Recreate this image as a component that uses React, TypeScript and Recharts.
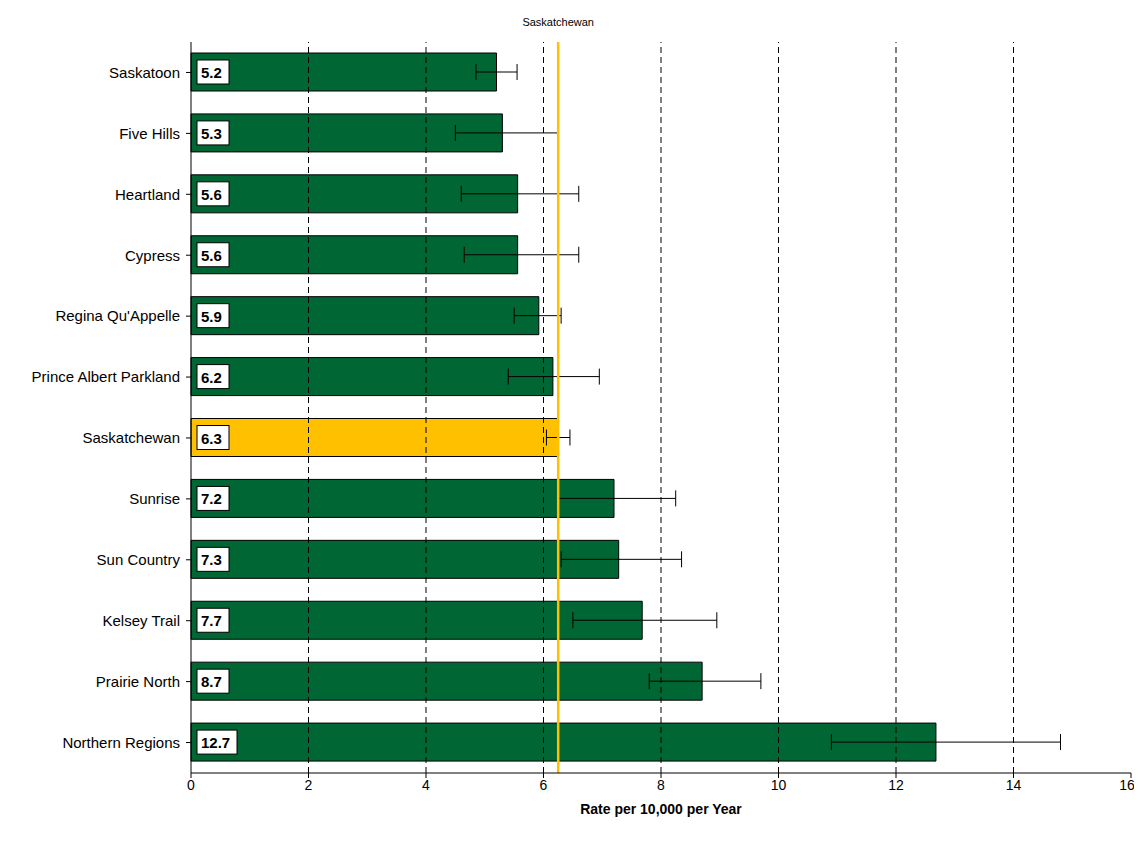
import React from "react";
import { BarChart, Bar, XAxis, YAxis, ErrorBar, LabelList, ReferenceLine, Cell } from "recharts";

const regions = ["Saskatoon","Five Hills","Heartland","Cypress","Regina Qu'Appelle","Prince Albert Parkland","Saskatchewan","Sunrise","Sun Country","Kelsey Trail","Prairie North","Northern Regions"];
const rates = [5.2,5.3,5.56,5.56,5.92,6.16,6.25,7.2,7.28,7.68,8.7,12.68];
const labels = ["5.2","5.3","5.6","5.6","5.9","6.2","6.3","7.2","7.3","7.7","8.7","12.7"];
const lower = [4.85,4.5,4.6,4.65,5.5,5.4,6.05,6.25,6.3,6.5,7.8,10.9];
const upper = [5.55,6.25,6.6,6.6,6.3,6.95,6.45,8.25,8.35,8.95,9.7,14.8];
const xTicks = [0,2,4,6,8,10,12,14,16];
const gridLines = [2,4,6,8,10,12,14];
const provincialRate = 6.25;

const data = regions.map((r, i) => ({ name: r, rate: rates[i], label: labels[i], err: [rates[i] - lower[i], upper[i] - rates[i]] }));

const BoxLabel = (props: any) => {
  const { x, y, height, value } = props;
  const w = value.length > 3 ? 40 : 32;
  const h = 24;
  return (
    <g>
      <rect x={x + 6} y={y + height / 2 - h / 2} width={w} height={h} fill="#fff" stroke="#000" strokeWidth={1} />
      <text x={x + 10} y={y + height / 2 + 6} fontSize={15} fontWeight="bold" fill="#000" fontFamily="Liberation Sans, Arial">{value}</text>
    </g>
  );
};

export default function App() {
  return (
    <BarChart width={1126} height={826} data={data} layout="vertical" margin={{ top: 34, right: 3, bottom: 20, left: 0 }} style={{ fontFamily: "Liberation Sans, Arial" }}>
      {gridLines.map((g) => <ReferenceLine key={g} x={g} stroke="#000" strokeDasharray="6 4" />)}
      <XAxis type="number" domain={[0, 16]} ticks={xTicks} tick={{ fill: "#000", fontSize: 14 }} stroke="#000" tickSize={5} height={41}
        label={{ value: "Rate per 10,000 per Year", position: "insideBottom", offset: 0, fontWeight: "bold", fontSize: 14, fill: "#000" }} />
      <YAxis type="category" dataKey="name" width={183} tick={{ fill: "#000", fontSize: 15 }} stroke="#000" tickSize={5} tickMargin={6} interval={0} />
      <Bar dataKey="rate" stroke="#000" strokeWidth={1} barSize={38} isAnimationActive={false}>
        {data.map((d, i) => <Cell key={i} fill={d.name === "Saskatchewan" ? "#FFC000" : "#006633"} />)}
        <ErrorBar dataKey="err" direction="x" stroke="#000" strokeWidth={1} width={8} />
        <LabelList dataKey="label" content={BoxLabel} />
      </Bar>
      <ReferenceLine x={provincialRate} stroke="#FFC000" strokeWidth={2.5}
        label={{ value: "Saskatchewan", position: "top", offset: 16, fontSize: 11, fill: "#000" }} />
    </BarChart>
  );
}
